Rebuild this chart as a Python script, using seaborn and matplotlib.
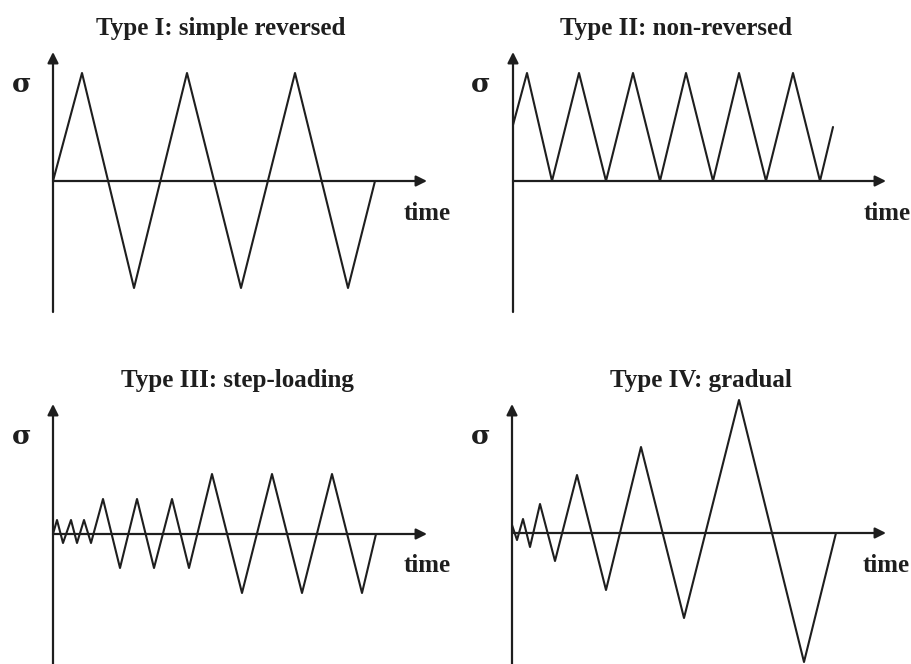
import matplotlib
matplotlib.use("Agg")
import matplotlib.pyplot as plt
import seaborn as sns
import pandas as pd

sns.set_theme(style="white")
plt.rcParams['font.family'] = ['Liberation Serif', 'DejaVu Serif']

W, H = 912, 664

# ---- data (time, stress), in pixel-like units ----
titles = ["Type I: simple reversed", "Type II: non-reversed",
          "Type III: step-loading", "Type IV: gradual"]

t1 = [0, 29, 81, 134, 188, 242, 295, 322]
s1 = [0, 108, -107, 108, -107, 108, -107, 0]

t2 = [0, 14, 39, 66, 93, 120, 147, 173, 200, 226, 253, 280, 307, 320]
s2 = [56, 108, 0, 108, 0, 108, 0, 108, 0, 108, 0, 108, 0, 54]

t3 = [0, 4, 10, 18, 24, 31, 38, 50, 67, 84, 101, 119, 136,
      159, 189, 219, 249, 279, 309, 323]
s3 = [0, 14, -9, 14, -9, 14, -9, 35, -34, 35, -34, 35, -34,
      60, -59, 60, -59, 60, -59, 0]

t4 = [0, 5, 11, 18, 28, 43, 65, 94, 129, 172, 227, 292, 324]
s4 = [8, -7, 14, -14, 29, -28, 58, -57, 86, -85, 133, -129, 0]

series = [(t1, s1), (t2, s2), (t3, s3), (t4, s4)]

# ---- layout: quadrant placement (pixels) and origin of each panel ----
quad = [(0, 0), (456, 0), (0, 332), (456, 332)]
origin = [(53, 181), (513, 181), (53, 534), (512, 533)]
yaxis_bottom = [312, 312, 664, 664]
yaxis_top = [52, 52, 404, 404]
xaxis_tip = [427, 886, 427, 886]
title_pos = [(221, 28), (676, 28), (237, 380), (701, 380)]
time_pos = [(427, 214), (887, 214), (427, 566), (886, 566)]
sigma_pos = [(22, 84), (481, 84), (22, 436), (481, 436)]

ink = "#1e1e1e"

fig = plt.figure(figsize=(W / 100, H / 100), dpi=100)
fig.patch.set_facecolor("white")

for i in range(4):
    qx, qy = quad[i]
    ox, oy = origin[i]
    ax = fig.add_axes([qx / W, 1 - (qy + 332) / H, 456 / W, 332 / H])
    ax.set_xlim(qx - ox, qx + 456 - ox)
    ax.set_ylim(oy - (qy + 332), oy - qy)
    ax.axis("off")

    t, s = series[i]
    df = pd.DataFrame({"time": t, "stress": s})
    sns.lineplot(data=df, x="time", y="stress", ax=ax, sort=False,
                 estimator=None, color=ink, lw=1.5,
                 solid_joinstyle="round", solid_capstyle="round")

    # axes with arrows
    ax.annotate("", xy=(0, oy - yaxis_top[i]), xytext=(0, oy - yaxis_bottom[i]),
                arrowprops=dict(arrowstyle="-|>", color=ink, lw=1.6,
                                mutation_scale=16, shrinkA=0, shrinkB=0))
    ax.annotate("", xy=(xaxis_tip[i] - ox, 0), xytext=(0, 0),
                arrowprops=dict(arrowstyle="-|>", color=ink, lw=1.6,
                                mutation_scale=16, shrinkA=0, shrinkB=0))

    tx, ty = title_pos[i]
    ax.text(tx - ox, oy - ty, titles[i], ha="center", va="center",
            fontsize=18, fontweight="bold", color=ink)
    mx, my = time_pos[i]
    ax.text(mx - ox, oy - my, "time", ha="center", va="center",
            fontsize=18, fontweight="bold", color=ink)
    gx, gy = sigma_pos[i]
    ax.text(gx - ox, oy - gy, "σ", ha="center", va="center",
            fontsize=19, fontweight="bold", color=ink,
            family=['DejaVu Serif'])

fig.savefig("out.png", dpi=100, facecolor="white")
